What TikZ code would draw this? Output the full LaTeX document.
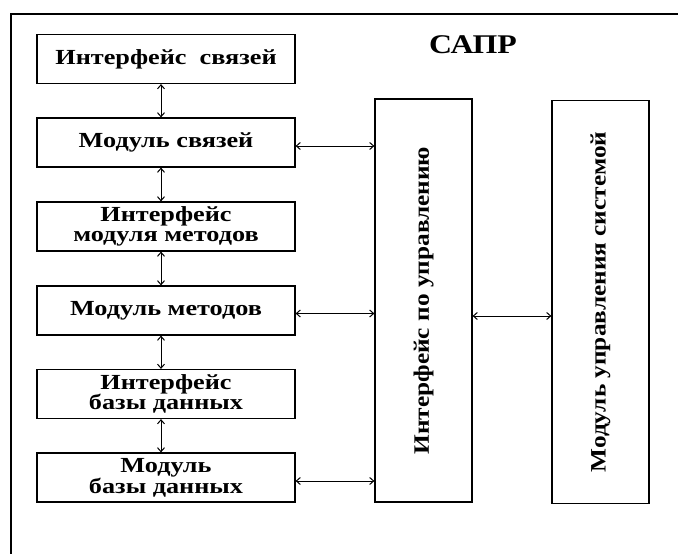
\documentclass[tikz,border=0pt]{standalone}
\usepackage{fontspec}
\setmainfont{Liberation Serif}
\usetikzlibrary{arrows.meta}

\tikzset{
	blok/.style={draw,line width=1.2pt,minimum width=258pt,minimum height=49pt,inner sep=0pt,
		align=center,font=\bfseries\fontsize{21.5}{20}\selectfont\addfontfeature{FakeStretch=1.22}},
	vblok/.style={draw,line width=1.2pt,minimum width=97pt,minimum height=403pt,inner sep=0pt,
		font=\bfseries\fontsize{22}{19}\selectfont\addfontfeature{FakeStretch=1.15}},
	strelka/.style={line width=1pt,{Straight Barb[length=4pt,width=7pt]}-{Straight Barb[length=4pt,width=7pt]}}
}

\begin{document}
\begin{tikzpicture}[x=1pt,y=-1pt]
			\useasboundingbox (0,0) rectangle (678,554);
			% ramka
			\draw[line width=1.4pt] (11,554) -- (11,14) -- (678,14);
			\node[font=\bfseries\fontsize{27}{27}\selectfont\addfontfeature{FakeStretch=1.18}] (sapr) at (473,45) {САПР};
			% levaya kolonka
			\node[blok] (isv) at (166,59) {Интерфейс~~связей};
			\node[blok] (msv) at (166,142.5) {Модуль связей};
			\node[blok] (imet) at (166,226.5) {Интерфейс\\модуля методов};
			\node[blok] (mmet) at (166,310.5) {Модуль методов};
			\node[blok] (ibd) at (166,394) {Интерфейс\\базы данных};
			\node[blok] (mbd) at (166,477.5) {Модуль\\базы данных};
			% pravye bloki
			\node[vblok] (upr) at (423.5,300.5) {\rotatebox{90}{Интерфейс по управлению}};
			\node[vblok] (sys) at (600.5,302) {\rotatebox{90}{Модуль управления системой}};
			% strelki
			\draw[strelka] ([xshift=-5pt]isv.south) -- ([xshift=-5pt]msv.north);
			\draw[strelka] ([xshift=-5pt]msv.south) -- ([xshift=-5pt]imet.north);
			\draw[strelka] ([xshift=-5pt]imet.south) -- ([xshift=-5pt]mmet.north);
			\draw[strelka] ([xshift=-5pt]mmet.south) -- ([xshift=-5pt]ibd.north);
			\draw[strelka] ([xshift=-5pt]ibd.south) -- ([xshift=-5pt]mbd.north);
			\coordinate (a1) at ([yshift=-3.5pt]msv.east);
			\coordinate (a2) at ([yshift=-3pt]mmet.east);
			\coordinate (a3) at ([yshift=-3.5pt]mbd.east);
			\coordinate (a4) at ([yshift=-15.5pt]upr.east);
			\draw[strelka] (a1) -- (a1 -| upr.west);
			\draw[strelka] (a2) -- (a2 -| upr.west);
			\draw[strelka] (a3) -- (a3 -| upr.west);
			\draw[strelka] (a4) -- (a4 -| sys.west);
		\end{tikzpicture}
\end{document}
